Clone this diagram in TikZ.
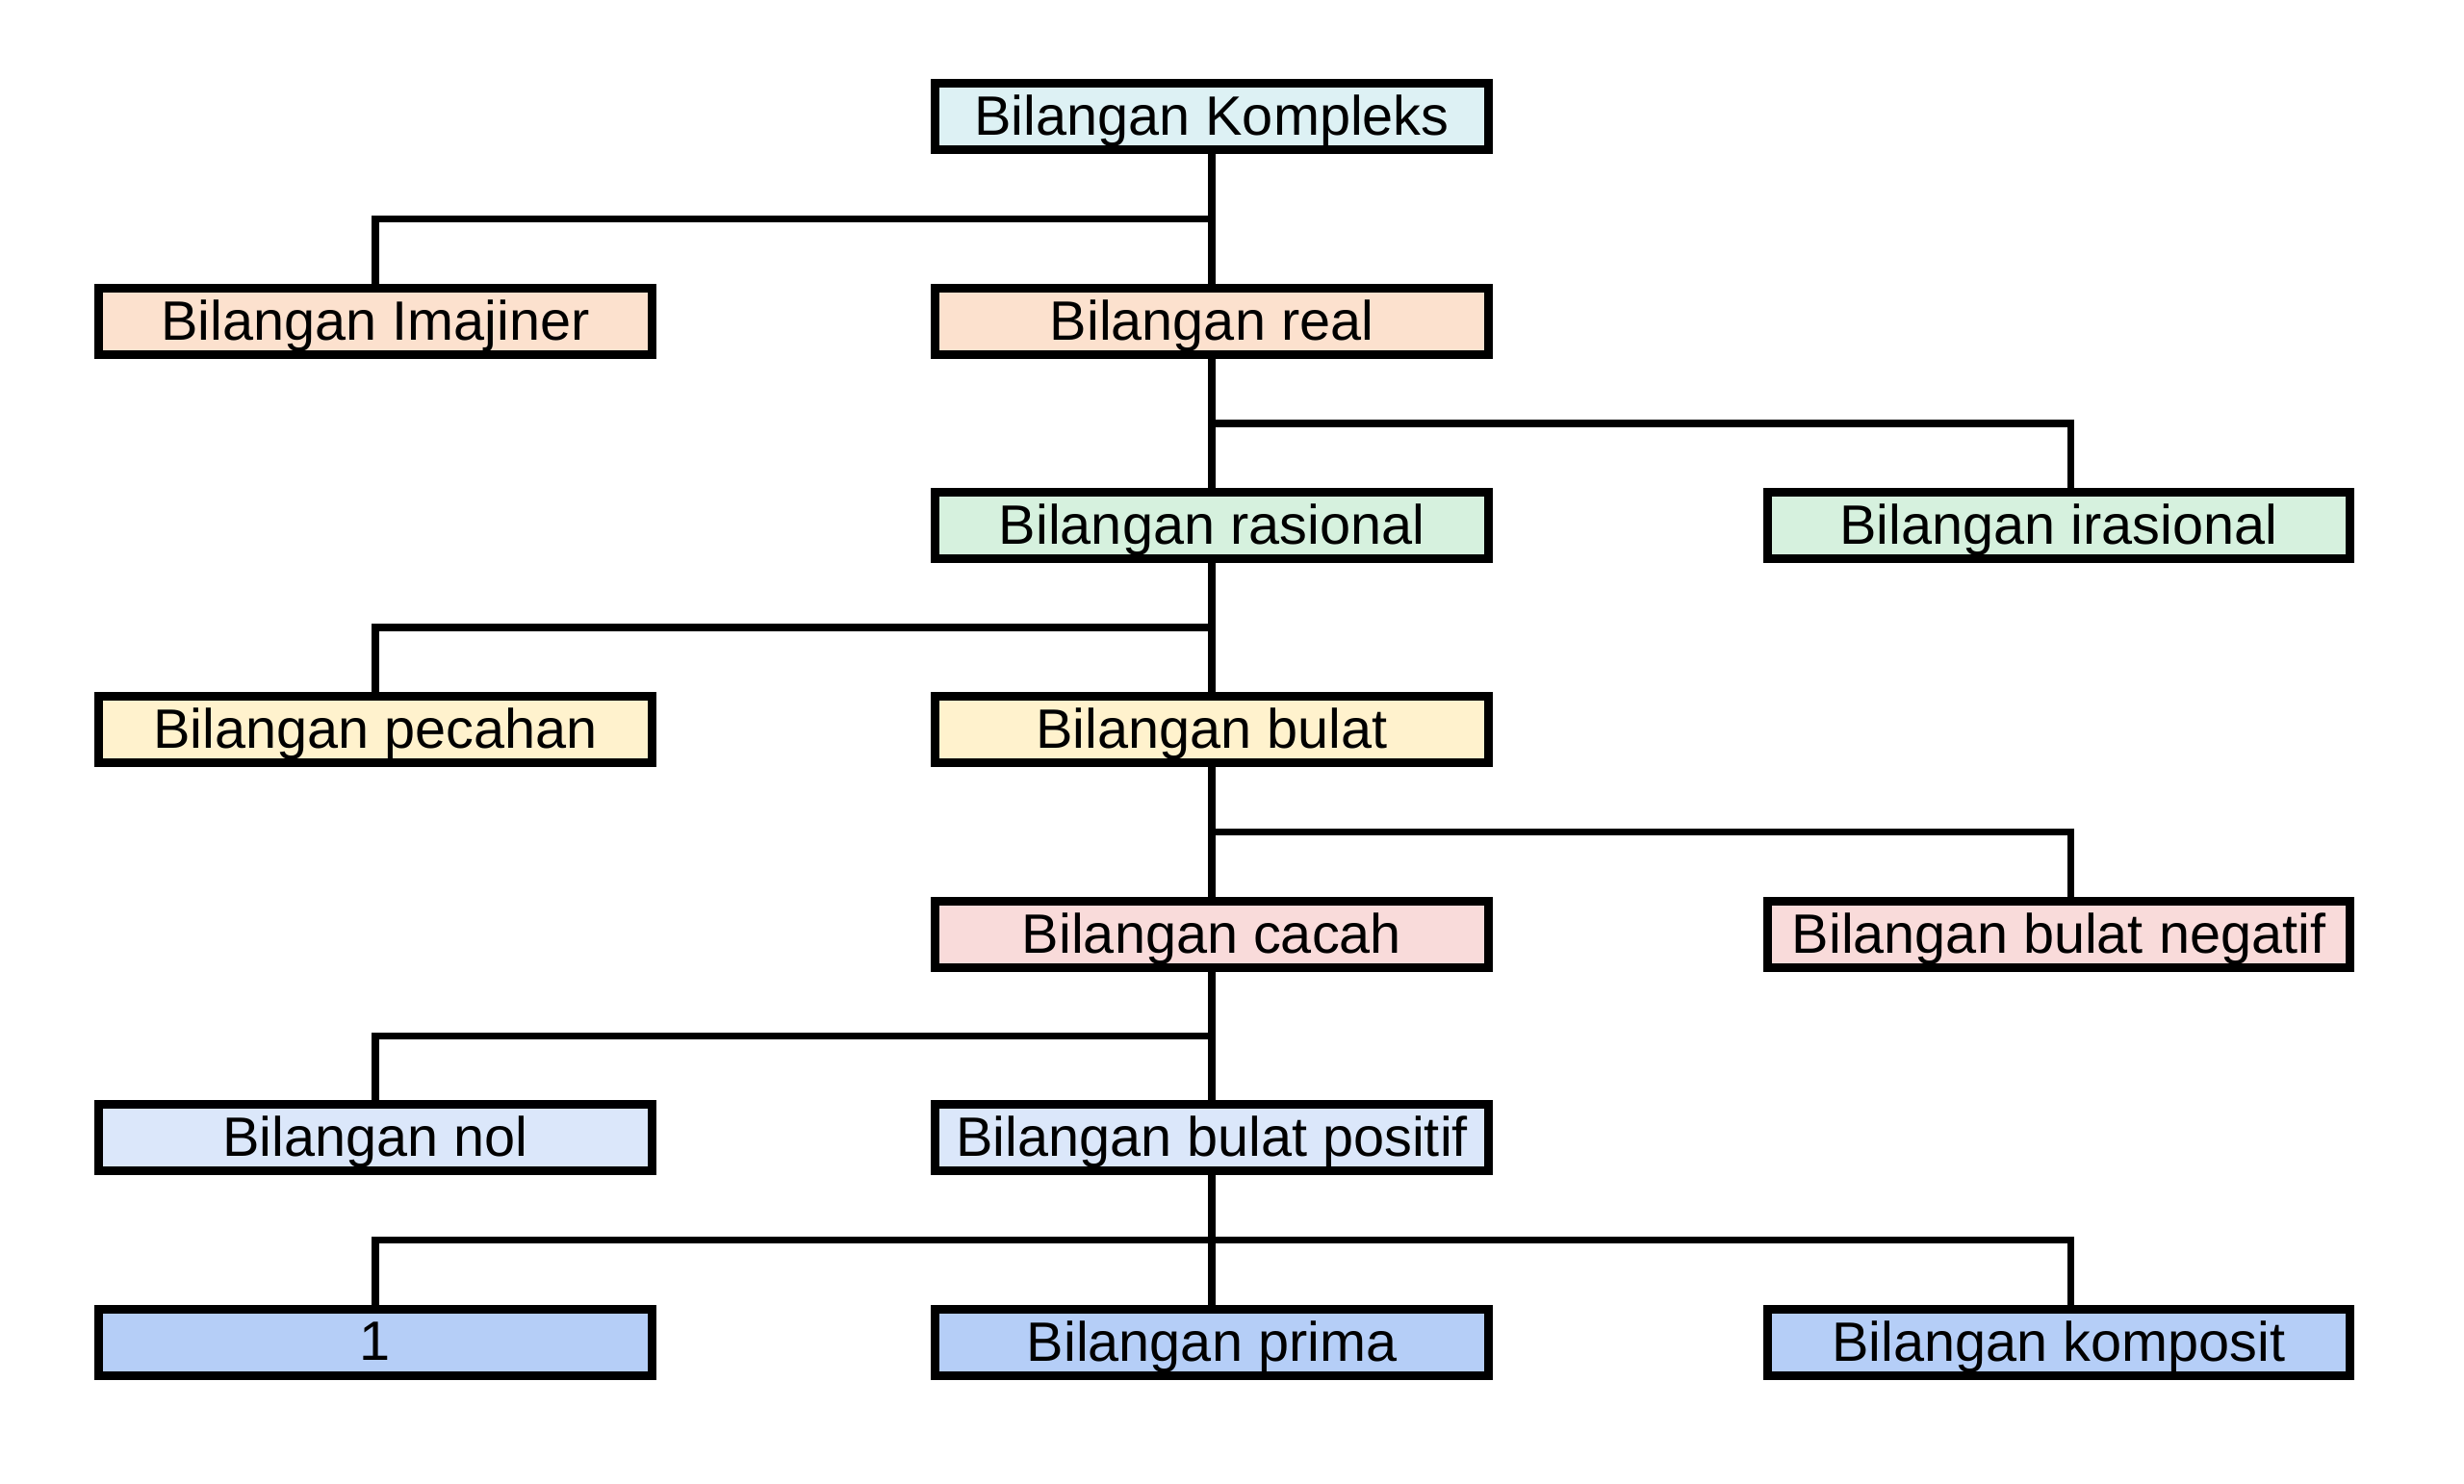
\documentclass[tikz,border=0pt]{standalone}
\usepackage{fontspec}
\setmainfont{Liberation Sans}
\usetikzlibrary{calc}

\definecolor{kompfill}{HTML}{DDF1F4}
\definecolor{realfill}{HTML}{FCE1CE}
\definecolor{rasfill}{HTML}{D6F1DE}
\definecolor{bulfill}{HTML}{FFF2CD}
\definecolor{cacfill}{HTML}{F9DBDA}
\definecolor{posfill}{HTML}{DBE7FA}
\definecolor{primfill}{HTML}{B5CEF7}

\begin{document}
\begin{tikzpicture}[box/.style={shape=rectangle,draw,line width=2.6pt,minimum height=6.9mm,minimum width=57.5mm,inner sep=0pt,text depth=1pt,font=\fontsize{16.4}{19}\selectfont},
	wbox/.style={box,minimum width=60.5mm},
	link/.style={line width=2pt}]
	\useasboundingbox (0,0) rectangle (25.6,-15.41);
	\draw (12.59,-1.21) node (komp) [box,fill=kompfill] {Bilangan Kompleks};
	\draw (3.90,-3.34) node (imaj) [box,fill=realfill] {Bilangan Imajiner};
	\draw (12.59,-3.34) node (real) [box,fill=realfill] {Bilangan real};
	\draw (12.59,-5.46) node (ras) [box,fill=rasfill] {Bilangan rasional};
	\draw (21.39,-5.46) node (iras) [wbox,fill=rasfill] {Bilangan irasional};
	\draw (3.90,-7.58) node (pec) [box,fill=bulfill] {Bilangan pecahan};
	\draw (12.59,-7.58) node (bul) [box,fill=bulfill] {Bilangan bulat};
	\draw (12.59,-9.71) node (cac) [box,fill=cacfill] {Bilangan cacah};
	\draw (21.39,-9.71) node (neg) [wbox,fill=cacfill] {Bilangan bulat negatif};
	\draw (3.90,-11.82) node (nol) [box,fill=posfill] {Bilangan nol};
	\draw (12.59,-11.82) node (pos) [box,fill=posfill] {Bilangan bulat positif};
	\draw (3.90,-13.95) node (satu) [box,fill=primfill] {1};
	\draw (12.59,-13.95) node (prim) [box,fill=primfill] {Bilangan prima};
	\draw (21.39,-13.95) node (komposit) [wbox,fill=primfill] {Bilangan komposit};
	% trunk
	\draw[link] (komp) -- (real);
	\draw[link] (real) -- (ras);
	\draw[link] (ras) -- (bul);
	\draw[link] (bul) -- (cac);
	\draw[link] (cac) -- (pos);
	\draw[link] (pos) -- (prim);
	% side branches
	\draw[link] (imaj.north) |- ($(komp.south)!.5!(real.north)$);
	\draw[link] ([xshift=1.2mm]iras.north) |- ($(real.south)!.5!(ras.north)$);
	\draw[link] (pec.north) |- ($(ras.south)!.5!(bul.north)$);
	\draw[link] ([xshift=1.2mm]neg.north) |- ($(bul.south)!.5!(cac.north)$);
	\draw[link] (nol.north) |- ($(cac.south)!.5!(pos.north)$);
	\draw[link] (satu.north) |- ($(pos.south)!.5!(prim.north)$);
	\draw[link] ([xshift=1.2mm]komposit.north) |- ($(pos.south)!.5!(prim.north)$);
\end{tikzpicture}
\end{document}
